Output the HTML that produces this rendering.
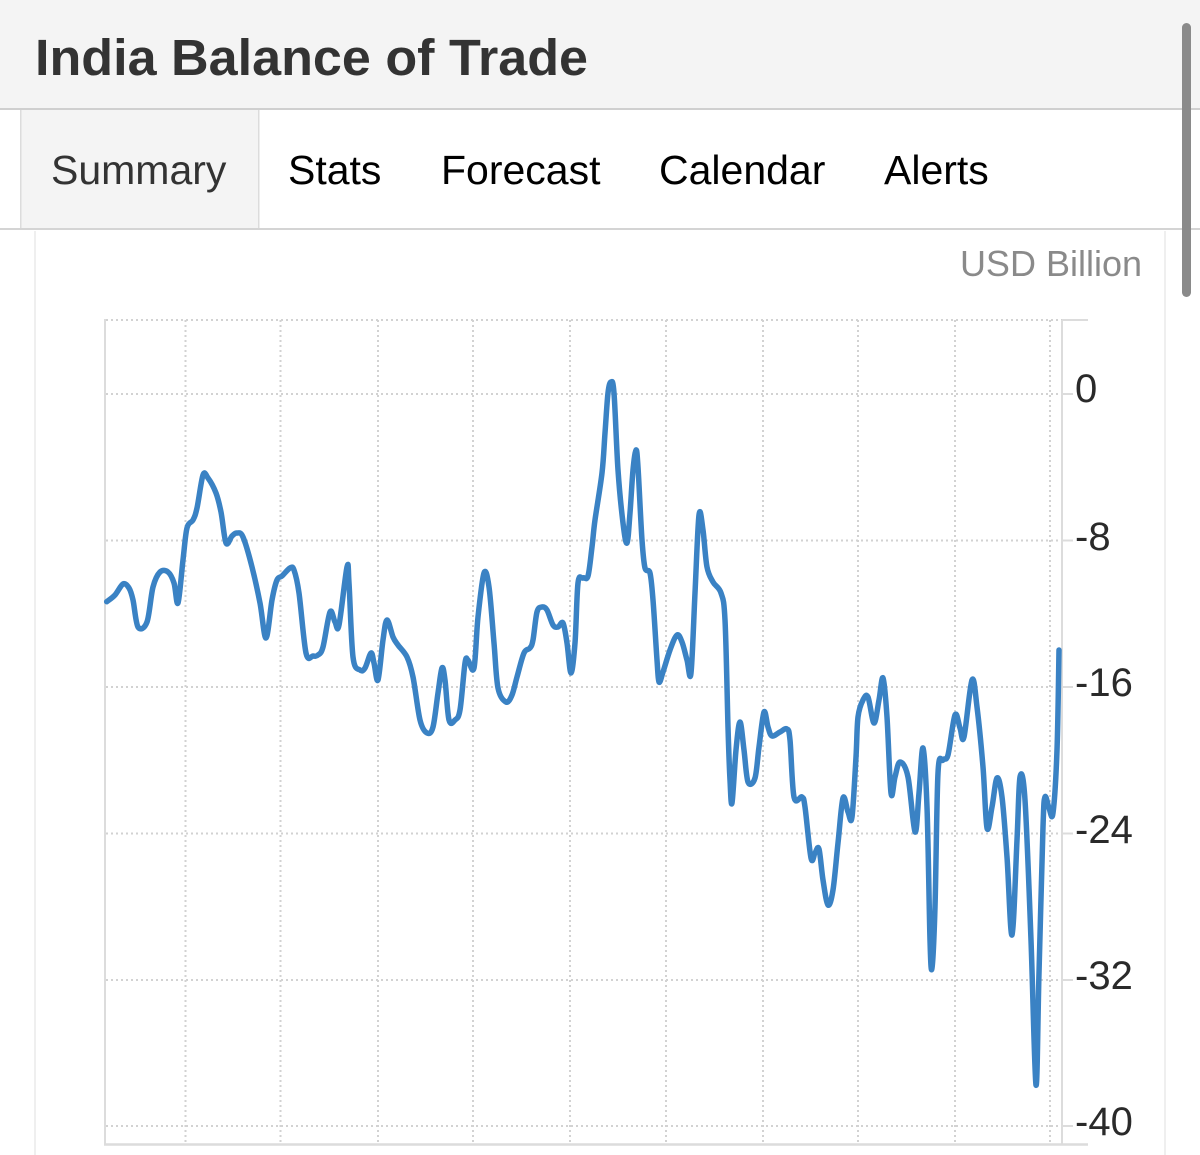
<!DOCTYPE html>
<html>
<head>
<meta charset="utf-8">
<style>
  html,body{margin:0;padding:0;background:#fff;}
  body{width:1200px;height:1155px;overflow:hidden;position:relative;}
  svg{position:absolute;left:0;top:0;}
  text{font-family:"Liberation Sans", Arial, sans-serif;}
</style>
</head>
<body>
<svg id="chart" width="1200" height="1155" viewBox="0 0 1200 1155" xmlns="http://www.w3.org/2000/svg">
  <!-- header -->
  <rect x="0" y="0" width="1200" height="109" fill="#f4f4f4"/>
  <rect x="0" y="108" width="1200" height="2" fill="#cfcfcf"/>
  <text x="35" y="75" font-size="51" font-weight="bold" fill="#333" textLength="553" lengthAdjust="spacingAndGlyphs">India Balance of Trade</text>

  <!-- tabs -->
  <rect x="21" y="110" width="238" height="118" fill="#f4f4f4"/>
  <rect x="20" y="110" width="1.5" height="118" fill="#dcdcdc"/>
  <rect x="258" y="110" width="1.5" height="118" fill="#dcdcdc"/>
  <rect x="0" y="228" width="1200" height="2" fill="#d4d4d4"/>
  <text x="51" y="184" font-size="41" fill="#333">Summary</text>
  <text x="288" y="184" font-size="41" fill="#000">Stats</text>
  <text x="441" y="184" font-size="41" fill="#000">Forecast</text>
  <text x="659" y="184" font-size="41" fill="#000">Calendar</text>
  <text x="884" y="184" font-size="41" fill="#000">Alerts</text>

  <!-- chart container borders -->
  <rect x="34" y="231" width="2" height="924" fill="#efefef"/>
  <rect x="1164" y="231" width="2" height="924" fill="#efefef"/>

  <!-- scrollbar -->
  <rect x="1182" y="23" width="9" height="274" rx="4.5" fill="#8a8a8a"/>

  <text x="1142" y="276" font-size="36" fill="#8a8a8a" text-anchor="end">USD Billion</text>

  <!-- grid -->
  <g stroke="#d2d2d2" stroke-width="2" stroke-dasharray="2 3" fill="none">
    <line x1="106" y1="320" x2="1062" y2="320"/>
    <line x1="106" y1="394" x2="1062" y2="394"/>
    <line x1="106" y1="540.5" x2="1062" y2="540.5"/>
    <line x1="106" y1="687" x2="1062" y2="687"/>
    <line x1="106" y1="833.5" x2="1062" y2="833.5"/>
    <line x1="106" y1="980" x2="1062" y2="980"/>
    <line x1="106" y1="1126" x2="1062" y2="1126"/>
    <line x1="185.5" y1="320" x2="185.5" y2="1143"/>
    <line x1="280.5" y1="320" x2="280.5" y2="1143"/>
    <line x1="378" y1="320" x2="378" y2="1143"/>
    <line x1="473" y1="320" x2="473" y2="1143"/>
    <line x1="570" y1="320" x2="570" y2="1143"/>
    <line x1="666" y1="320" x2="666" y2="1143"/>
    <line x1="763" y1="320" x2="763" y2="1143"/>
    <line x1="858" y1="320" x2="858" y2="1143"/>
    <line x1="955" y1="320" x2="955" y2="1143"/>
    <line x1="1050" y1="320" x2="1050" y2="1143"/>
  </g>
  <!-- axes -->
  <g stroke="#dcdcdc" fill="none">
    <line x1="105" y1="319" x2="105" y2="1145" stroke-width="2"/>
    <line x1="104" y1="1144.5" x2="1088" y2="1144.5" stroke-width="2.5"/>
    <line x1="1062" y1="320" x2="1062" y2="1144" stroke-width="2"/>
    <line x1="1062" y1="320" x2="1088" y2="320" stroke-width="2"/>
    <line x1="1062" y1="394" x2="1073" y2="394" stroke-width="2"/>
    <line x1="1062" y1="540.5" x2="1073" y2="540.5" stroke-width="2"/>
    <line x1="1062" y1="687" x2="1073" y2="687" stroke-width="2"/>
    <line x1="1062" y1="833.5" x2="1073" y2="833.5" stroke-width="2"/>
    <line x1="1062" y1="980" x2="1073" y2="980" stroke-width="2"/>
    <line x1="1062" y1="1126" x2="1073" y2="1126" stroke-width="2"/>
  </g>
  <!-- y labels -->
  <g font-size="40" fill="#2a2a2a">
    <text x="1075" y="402">0</text>
    <text x="1075" y="550">-8</text>
    <text x="1075" y="696">-16</text>
    <text x="1075" y="843">-24</text>
    <text x="1075" y="989">-32</text>
    <text x="1075" y="1135">-40</text>
  </g>

  <!-- series -->
  <polyline id="series" fill="none" stroke="#3a82c4" stroke-width="5.5" stroke-linejoin="round" stroke-linecap="round" points="
106.7,601.7 115,595 123,584 129,588 133,600 138,627 147,622 153,587 160,572 168,572 174,583 178,603 183,560 187,528 193,520 197,508 203,475 208,478 216,493 221,512 226,543 232,536 237,533 243,537 252,567 260,603 266,638 272,600 277,580 282,576 290,568 294,570 299,593 306,653 313,656 318,655 323,647 330,612 335,622 339,625 347,567 349,583 353,657 360,670 365,668 371,653 374,663 378,680 383,640 387,620 393,637 398,645 407,657 413,677 420,720 427,733 433,727 438,693 442,668 445,680 449,720 455,720 460,710 465,663 468,660 474,668 478,617 484,573 489,587 494,643 498,688 506,702 512,695 517,677 524,653 530,648 533,640 537,612 542,607 547,610 553,625 558,627 563,623 567,643 571,673 575,643 578,583 583,578 588,576 592,547 595,520 602,473 605,433 608,393 611,382 614,393 618,470 623,523 627,543 630,513 633,470 636,450 638,467 642,540 645,568 650,573 653,600 657,660 659,682 663,672 670,650 677,635 682,642 687,660 691,673 695,593 699,515 703,530 707,567 713,582 721,593 725,620 728,727 730,780 732,803 736,750 740,722 744,750 748,782 755,778 759,747 764,712 768,727 772,736 780,732 787,729 790,740 794,797 802,797 805,807 811,858 815,853 819,849 823,880 828,905 833,890 838,843 843,798 848,812 852,817 856,757 858,717 863,700 868,697 874,723 879,700 883,678 887,717 891,793 895,777 900,762 908,777 915,832 919,793 923,748 927,807 930,940 932,968 935,907 938,773 943,760 948,755 955,715 960,728 964,737 972,680 977,707 983,767 987,828 992,807 997,778 1002,797 1007,857 1012,935 1017,840 1020,777 1025,800 1031,940 1036,1085 1039,973 1043,827 1045,797 1049,808 1053,813 1057,750 1059,650"/>
</svg>
<script>
(function(){
  try{
    var pl=document.getElementById('series');
    var raw=pl.getAttribute('points').trim().split(/\s+/);
    var p=raw.map(function(s){var a=s.split(',');return [parseFloat(a[0]),parseFloat(a[1])];});
    var t=0.5, d='M'+p[0][0]+','+p[0][1];
    for(var i=0;i<p.length-1;i++){
      var p0=p[i-1]||p[i], p1=p[i], p2=p[i+1], p3=p[i+2]||p2;
      var c1x=p1[0]+(p2[0]-p0[0])/6*t*2, c1y=p1[1]+(p2[1]-p0[1])/6*t*2;
      var c2x=p2[0]-(p3[0]-p1[0])/6*t*2, c2y=p2[1]-(p3[1]-p1[1])/6*t*2;
      d+=' C'+c1x.toFixed(1)+','+c1y.toFixed(1)+' '+c2x.toFixed(1)+','+c2y.toFixed(1)+' '+p2[0]+','+p2[1];
    }
    var ns='http://www.w3.org/2000/svg';
    var path=document.createElementNS(ns,'path');
    path.setAttribute('d',d);
    path.setAttribute('fill','none');
    path.setAttribute('stroke','#3a82c4');
    path.setAttribute('stroke-width','5.5');
    path.setAttribute('stroke-linejoin','round');
    path.setAttribute('stroke-linecap','round');
    pl.parentNode.replaceChild(path,pl);
  }catch(e){}
})();
</script>
</body>
</html>
